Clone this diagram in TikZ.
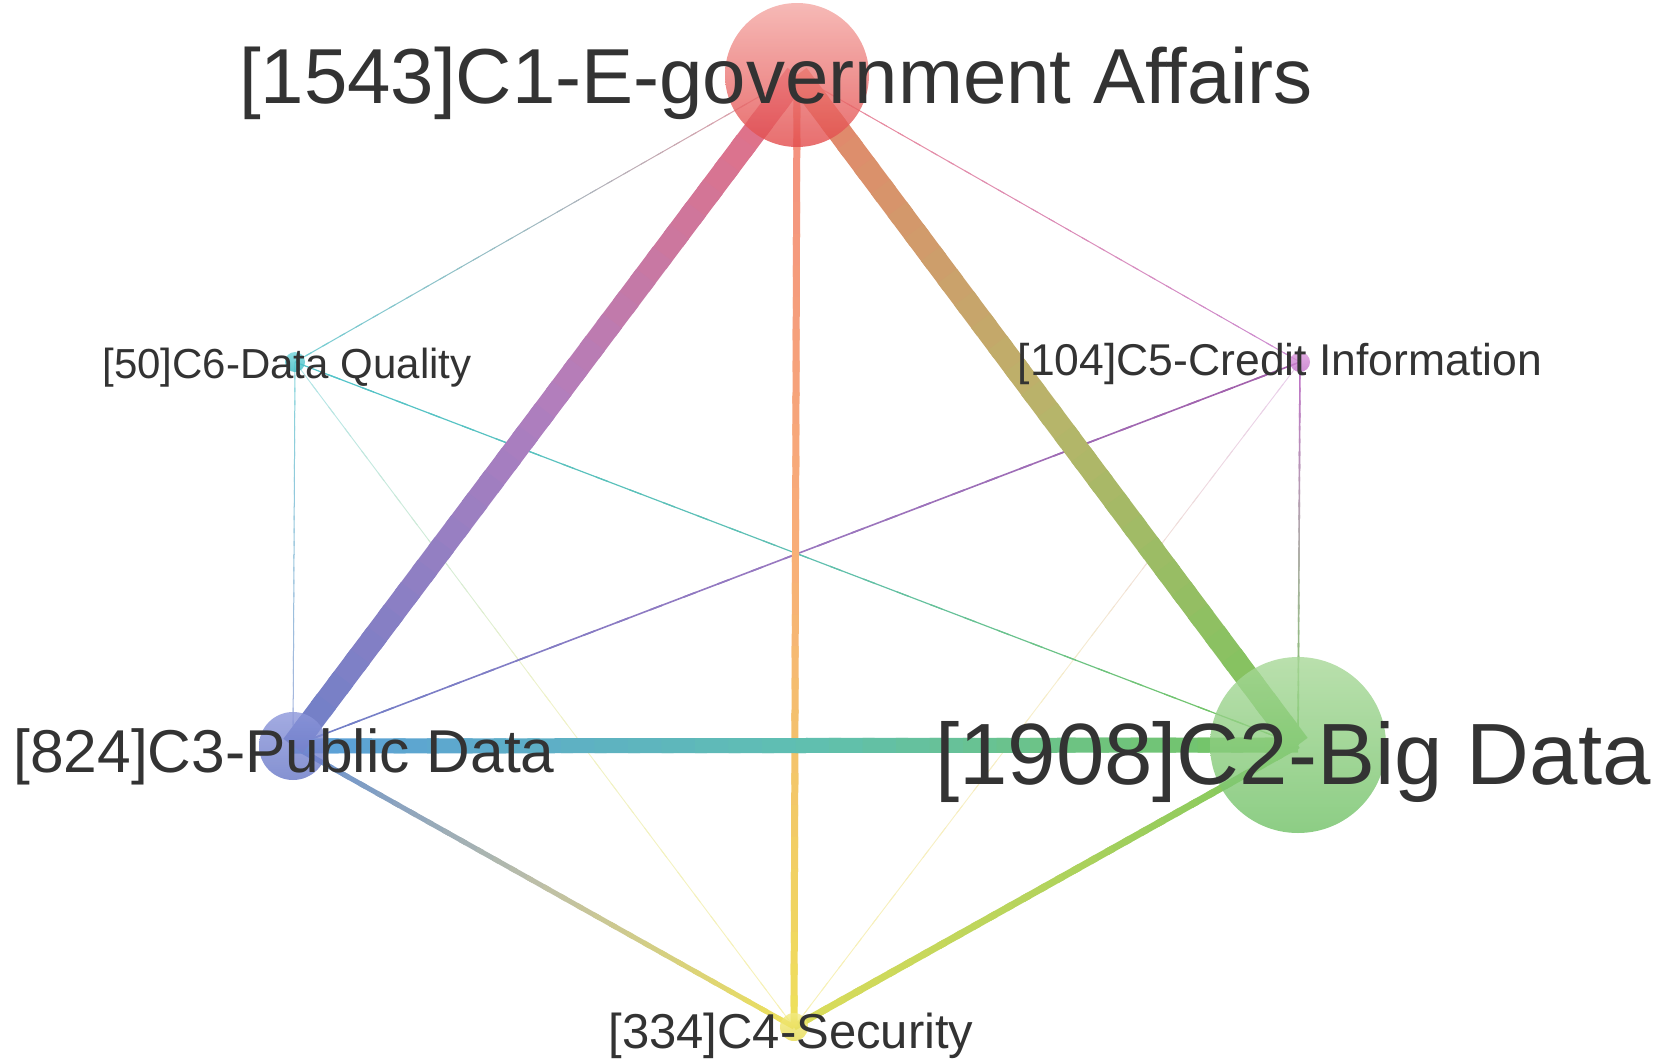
\documentclass[tikz,border=0pt]{standalone}
\usepackage{fontspec}
\setmainfont{Liberation Sans}
\usepackage{tikz}
\usetikzlibrary{calc,positioning,backgrounds}
\usepackage{xcolor}
\pgfdeclarelayer{edgelayer}
\pgfdeclarelayer{nodelayer}
\pgfsetlayers{edgelayer,nodelayer,main}
\definecolor{ink}{HTML}{333333}
\definecolor{egovA}{HTML}{F4A8A4}
\definecolor{egovB}{HTML}{E24A4A}
\definecolor{bigA}{HTML}{A8D898}
\definecolor{bigB}{HTML}{70C166}
\definecolor{pubA}{HTML}{8C96DA}
\definecolor{pubB}{HTML}{6676C6}
\definecolor{secA}{HTML}{F2EA80}
\definecolor{secB}{HTML}{E6DA4E}
\definecolor{credA}{HTML}{DC98DC}
\definecolor{credB}{HTML}{C070C8}
\definecolor{qualA}{HTML}{70D4DA}
\definecolor{qualB}{HTML}{36BAC2}
\definecolor{egovPink}{HTML}{E8707F}
\definecolor{egovSalmon}{HTML}{E8826C}
\definecolor{egovPeach}{HTML}{F38E80}
\definecolor{pubBlue}{HTML}{6F80C8}
\definecolor{pubSky}{HTML}{5C9EDA}
\definecolor{bigGreen}{HTML}{78C65E}
\definecolor{secYellow}{HTML}{EEE05A}
\definecolor{lavender}{HTML}{B07EBE}
\definecolor{olive}{HTML}{B9B46A}
\definecolor{teal}{HTML}{5FBFB2}
\definecolor{apricot}{HTML}{F8AE78}
\definecolor{mauve}{HTML}{9A78C0}
\newcommand{\gradlink}[6]{%
  \colorlet{segA}{#4}\colorlet{segB}{#5}\colorlet{segC}{#6}%
  \foreach \k in {1,...,30}{%
    \pgfmathsetmacro{\pa}{(\k-1)/30}%
    \pgfmathsetmacro{\pb}{min(\k/30+0.012,1)}%
    \ifnum\k<16
      \pgfmathtruncatemacro{\pc}{100-(\k-0.5)*100/15}%
      \draw[line width=#3,color=segA!\pc!segB] ($(#1)!\pa!(#2)$) -- ($(#1)!\pb!(#2)$);
    \else
      \pgfmathtruncatemacro{\pc}{100-(\k-15.5)*100/15}%
      \draw[line width=#3,color=segB!\pc!segC] ($(#1)!\pa!(#2)$) -- ($(#1)!\pb!(#2)$);
    \fi
  }%
}

\begin{document}
\begin{tikzpicture}[x=1pt,y=-1pt,
  bubble/.style={circle,inner sep=0pt,fill opacity=0.8},
  lbl/.style={anchor=base,inner sep=0pt,text=ink}]
\useasboundingbox (0,0) rectangle (1667,1060);
\node[bubble,minimum size=144pt,top color=egovA,bottom color=egovB] (C1) at (797,75) {};
\node[bubble,minimum size=176pt,top color=bigA,bottom color=bigB] (C2) at (1298,745) {};
\node[bubble,minimum size=68pt,top color=pubA,bottom color=pubB] (C3) at (293,746) {};
\node[bubble,minimum size=28pt,top color=secA,bottom color=secB] (C4) at (794,1027) {};
\node[bubble,minimum size=20pt,top color=credA,bottom color=credB] (C5) at (1300,362) {};
\node[bubble,minimum size=20pt,top color=qualA,bottom color=qualB] (C6) at (295,362) {};
\begin{pgfonlayer}{edgelayer}
\gradlink{C6}{C4}{0.9pt}{qualB!40!white}{qualB!15!secYellow!35!white}{secYellow!45!white}
\gradlink{C5}{C4}{0.9pt}{credB!35!white}{credB!15!secYellow!35!white}{secYellow!45!white}
\gradlink{C1}{C6}{1pt}{egovPink!70!white}{egovPink!40!qualB!70!white}{qualB!70!white}
\gradlink{C1}{C5}{1pt}{egovPink!80!white}{egovPink!50!credB!80!white}{credB!80!white}
\gradlink{C6}{C3}{1pt}{qualB!60!white}{qualB!50!pubBlue!60!white}{pubBlue!60!white}
\gradlink{C6}{C2}{1.2pt}{qualB!85!white}{teal}{bigGreen}
\gradlink{C5}{C3}{1.6pt}{credB!85!black}{mauve}{pubBlue}
\gradlink{C5}{C2}{1.6pt}{credB}{credB!50!bigGreen!80!white}{bigGreen}
\gradlink{C3}{C4}{5pt}{pubSky!50!pubBlue}{pubBlue!50!secYellow!80!white}{secYellow}
\gradlink{C2}{C4}{7pt}{bigGreen}{bigGreen!50!secYellow}{secYellow!85!bigGreen}
\gradlink{C1}{C4}{7pt}{egovPeach}{apricot}{secYellow}
\gradlink{C3}{C2}{15pt}{pubSky}{teal}{bigGreen}
\gradlink{C1}{C3}{24pt}{egovPink}{lavender}{pubBlue}
\gradlink{C1}{C2}{24pt}{egovSalmon}{olive}{bigGreen}
\end{pgfonlayer}
\node[lbl,font=\fontsize{78}{80}\selectfont] (C1t) at (776,103) {[1543]C1-E-government Affairs};
\node[lbl,font=\fontsize{87}{90}\selectfont] (C2t) at (1293,784) {[1908]C2-Big Data};
\node[lbl,font=\fontsize{60.5}{64}\selectfont] (C3t) at (284,772) {[824]C3-Public Data};
\node[lbl,font=\fontsize{49}{52}\selectfont] (C4t) at (791,1048) {[334]C4-Security};
\node[lbl,font=\fontsize{44.5}{48}\selectfont] (C5t) at (1280,375) {[104]C5-Credit Information};
\node[lbl,font=\fontsize{42}{45}\selectfont] (C6t) at (287,378) {[50]C6-Data Quality};
\end{tikzpicture}
\end{document}
